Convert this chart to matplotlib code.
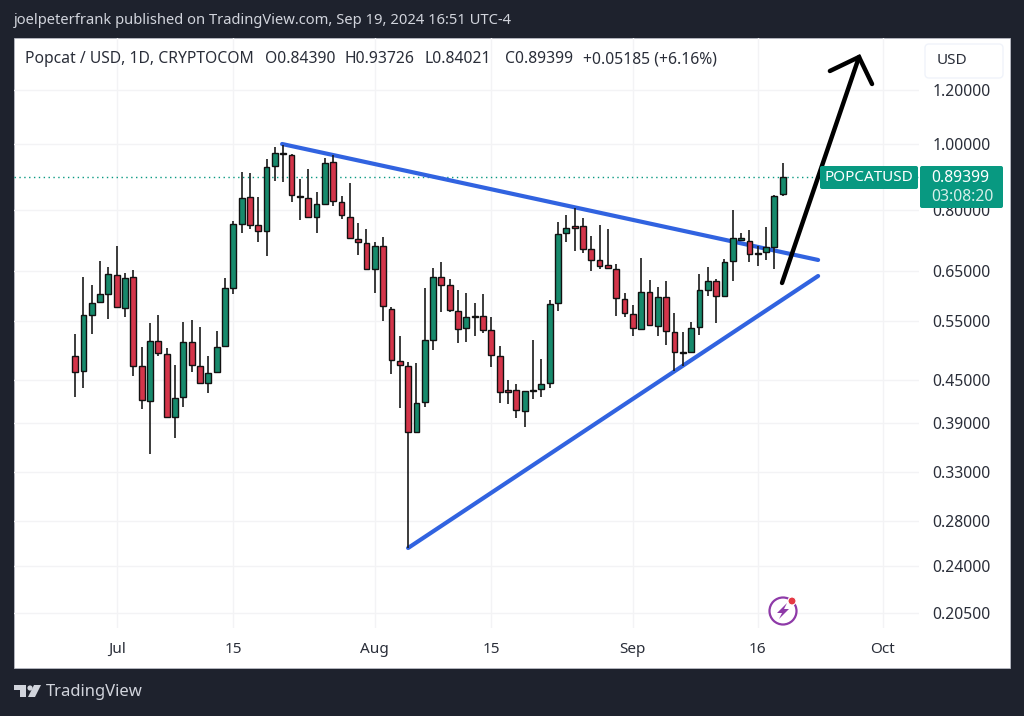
import matplotlib
matplotlib.use("Agg")
import numpy as np
import pandas as pd
import matplotlib.pyplot as plt
import matplotlib.dates as mdates
from matplotlib.patches import Circle, FancyBboxPatch, Polygon, Rectangle

plt.rcParams['font.family'] = ['Noto Sans', 'DejaVu Sans']

# daily candles, Popcat / USD
dates = pd.date_range("2024-06-26", periods=86)
opens = [.4892, .4640, .5617, .5858, .6024, .6417, .5740, .6381, .4724, .4202, .5135, .4920, .3973, .4250, .5123, .4719, .4461, .4625, .5054, .6155, .7631,
         .8360, .7597, .7453, .9293, .9689, .9625, .8388, .8341, .7822, .8164, .9400, .8229, .7822, .7262, .7164, .6550, .7084, .5727, .4810, .4724, .3777,
         .4188, .5163, .6381, .6210, .5694, .5366, .5594, .5599, .5331, .4892, .4353, .4353, .4059, .4357, .4367, .4457, .5838, .7402, .7586, .7579, .7007,
         .6751, .6638, .6556, .5918, .5631, .5354, .6072, .5413, .5970, .5294, .4953, .4948, .5384, .6101, .6289, .5990, .6735, .7222, .7213, .6919, .6943, .7068, .84390]
highs = [.5264, .6388, .6210, .6742, .6607, .7091, .6461, .6534, .5043, .5469, .5607, .5015, .4740, .5476, .5519, .5384, .4892, .5323, .6366, .7716, .9108,
         .9057, .8369, .9497, .9888, .9966, .9667, .8884, .9191, .8493, .9528, .9633, .8396, .8773, .7648, .7496, .7189, .7311, .5772, .5228, .4784, .4778,
         .6142, .6578, .6720, .6338, .6107, .6051, .5838, .6018, .5581, .5054, .4507, .4442, .4342, .5153, .4834, .5904, .7691, .7866, .8047, .7795, .7335,
         .7604, .7496, .6660, .6039, .5804, .6804, .6311, .6169, .6296, .5656, .5305, .5488, .6439, .6593, .6332, .6781, .8001, .7410, .7478, .7084, .7562, .8416, .93726]
lows = [.4259, .4391, .5264, .5858, .5538, .5760, .5569, .4572, .4087, .3510, .4887, .3973, .3701, .4119, .4634, .4466, .4308, .4625, .5054, .6018, .7410,
        .7503, .7189, .6856, .8824, .8804, .8229, .7735, .7805, .7410, .8164, .8109, .7754, .7271, .6872, .6563, .6051, .5506, .4593, .4105, .2554, .3777,
        .4119, .4987, .5663, .5663, .5111, .5123, .5233, .5287, .4708, .4174, .4151, .3964, .3850, .4226, .4250, .4382, .5689, .7189, .6966, .6912, .6518,
        .6550, .6571, .5599, .5581, .5228, .5354, .5421, .5233, .5066, .4650, .4724, .4948, .5246, .5984, .5469, .5990, .6296, .7222, .6720, .6629, .6758, .6550, .84021]
closes = [.4634, .5607, .5838, .6018, .6439, .5760, .6360, .4729, .4208, .5135, .4931, .3973, .4245, .5123, .4735, .4466, .4609, .5037, .6142, .7631, .8341,
          .7604, .7445, .9263, .9689, .9657, .8408, .8369, .7805, .8164, .9388, .8256, .7858, .7271, .7189, .6563, .7084, .5791, .4817, .4735, .3785, .4174,
          .5153, .6388, .6217, .5708, .5359, .5569, .5575, .5331, .4899, .4323, .4323, .4077, .4338, .4342, .4442, .5824, .7377, .7521, .7536, .7014, .6765,
          .6629, .6571, .5944, .5656, .5366, .6072, .5421, .5970, .5313, .4948, .4941, .5372, .6101, .6289, .5990, .6712, .7271, .7271, .6889, .6903, .7054, .8396, .89399]
last_price = 0.89399

price_ticks = [1.2, 1.0, 0.8, 0.65, 0.55, 0.45, 0.39, 0.33, 0.28, 0.24, 0.205]
price_labels = ["1.20000", "1.00000", "0.80000", "0.65000", "0.55000", "0.45000", "0.39000", "0.33000", "0.28000", "0.24000", "0.20500"]
date_ticks = ["2024-07-01", "2024-07-15", "2024-08-01", "2024-08-15", "2024-09-01", "2024-09-16", "2024-10-01"]
date_labels = ["Jul", "15", "Aug", "15", "Sep", "16", "Oct"]

# drawings on the chart: (date, price) pairs
wedge_top_dates = ["2024-07-20 20:40", "2024-09-23 06:00"]
wedge_top_prices = [1.0, .6758]
wedge_low_dates = ["2024-08-05 00:00", "2024-09-23 06:00"]
wedge_low_prices = [.2554, .6402]
arrow_dates = ["2024-09-18 22:00", "2024-09-28 04:00"]
arrow_prices = [.6253, 1.3417]
head_dates = ["2024-09-24 16:00", "2024-09-28 04:00", "2024-09-29 17:30"]
head_prices = [1.2797, 1.3417, 1.2247]

BG = "#1e222d"
GREEN = "#178a6c"
RED = "#d4354a"
TEAL = "#089981"
BLUE = "#3163e0"
TEXT = "#2a2e39"

fig = plt.figure(figsize=(10.24, 7.16), dpi=100, facecolor=BG)

# pixel layer under the chart: panel and header
under = fig.add_axes([0, 0, 1, 1], zorder=0)
under.set_xlim(0, 1024)
under.set_ylim(716, 0)
under.axis("off")
under.add_patch(Rectangle((14, 38), 996, 630, fc="white", ec="#b8bbc4", lw=0.6))
under.text(14, 20, "joelpeterfrank published on TradingView.com, Sep 19, 2024 16:51 UTC-4",
           color="#d1d4dc", fontsize=10.6, va="center")
under.text(46, 692, "TradingView", color="#d1d4dc", fontsize=12, va="center")
under.add_patch(Polygon([(14, 685), (26, 685), (26, 697), (20, 697), (20, 690), (14, 690)], fc="#d1d4dc"))
under.add_patch(Circle((30, 688), 2.6, fc="#d1d4dc"))
under.add_patch(Polygon([(34, 685), (41, 685), (35, 697), (28, 697)], fc="#d1d4dc"))

ax = fig.add_axes([14 / 1024, (716 - 628) / 716, 905 / 1024, 590 / 716], zorder=1)
ax.patch.set_alpha(0)
ax.set_yscale("log")

x = mdates.date2num(dates)
opens = np.array(opens)
closes = np.array(closes)
colors = [GREEN if c >= o else RED for o, c in zip(opens, closes)]
ax.vlines(x, lows, highs, color="#1a1a1a", lw=1.2, zorder=3)
ax.bar(x, np.abs(closes - opens), bottom=np.minimum(opens, closes), width=0.7,
       color=colors, edgecolor="#111111", linewidth=1.0, zorder=4)

ax.axhline(last_price, color=TEAL, ls=(0, (1, 2.5)), lw=1, zorder=1)

ax.plot(pd.to_datetime(wedge_top_dates), wedge_top_prices, color=BLUE, lw=3, solid_capstyle="round", zorder=2)
ax.plot(pd.to_datetime(wedge_low_dates), wedge_low_prices, color=BLUE, lw=3, solid_capstyle="round", zorder=2)
ax.plot(pd.to_datetime(arrow_dates), arrow_prices, color="black", lw=3.2, solid_capstyle="round", zorder=5)
ax.plot(pd.to_datetime(head_dates), head_prices, color="black", lw=3.2, solid_capstyle="round",
        solid_joinstyle="miter", zorder=5)

jul1 = mdates.date2num(pd.Timestamp("2024-07-01"))
ax.set_xlim(jul1 - 12.34, jul1 + 96.37)
ax.set_ylim(0.1949, 1.4306)
ax.set_xticks(mdates.date2num(pd.to_datetime(date_ticks)))
ax.set_xticklabels(date_labels)
ax.yaxis.tick_right()
ax.set_yticks(price_ticks)
ax.set_yticklabels(price_labels)
ax.minorticks_off()
ax.tick_params(axis="x", length=0, pad=10, labelsize=11, labelcolor=TEXT)
ax.tick_params(axis="y", length=0, pad=9.5, labelsize=11.3, labelcolor=TEXT)
for lab in ax.get_xticklabels():
    if lab.get_text() == "Oct":
        lab.set_fontweight("bold")
ax.grid(True, color="#f3f3f5", lw=1, zorder=0)
ax.set_axisbelow(True)
for s in ax.spines.values():
    s.set_visible(False)

# pixel layer over the chart: legend line and price labels
over = fig.add_axes([0, 0, 1, 1], zorder=2)
over.set_xlim(0, 1024)
over.set_ylim(716, 0)
over.axis("off")
over.patch.set_alpha(0)
legend_parts = [(25, "Popcat / USD, 1D, CRYPTOCOM"), (265, "O0.84390"), (344, "H0.93726"),
                (424, "L0.84021"), (505, "C0.89399"), (583, "+0.05185 (+6.16%)")]
for px, txt in legend_parts:
    over.text(px, 59, txt, color=TEXT, fontsize=11.3, va="center")

over.add_patch(FancyBboxPatch((925, 44), 78, 34, boxstyle="round,pad=0,rounding_size=4",
                              fc="white", ec="#f0f3fa", lw=1))
over.text(937, 60, "USD", color=TEXT, fontsize=11, va="center")
over.add_patch(FancyBboxPatch((820, 166), 98, 23, boxstyle="round,pad=0,rounding_size=2",
                              fc=TEAL, ec="none"))
over.text(869, 177.5, "POPCATUSD", color="white", fontsize=11, ha="center", va="center")
over.add_patch(FancyBboxPatch((920, 166), 83, 42, boxstyle="round,pad=0,rounding_size=2",
                              fc=TEAL, ec="none"))
over.text(931, 178, "0.89399", color="white", fontsize=11.3, va="center")
over.text(931, 197, "03:08:20", color="#d5efe9", fontsize=11.3, va="center")

# lightning badge
over.add_patch(Circle((783, 611), 13.5, fc="white", ec="#8e3aa8", lw=1.6))
over.add_patch(Polygon([(787, 603), (777, 613), (782, 613), (779, 619), (789, 609), (784, 609)], fc="#8e3aa8"))
over.add_patch(Circle((792, 601), 4, fc="#e53945", ec="white", lw=0.8))

plt.savefig("out.png", dpi=100, facecolor=BG)
